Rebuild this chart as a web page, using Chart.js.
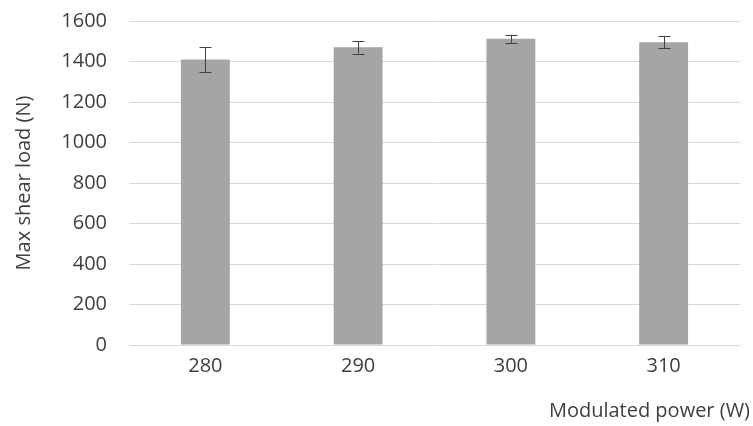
<!DOCTYPE html>
<html>
<head>
<meta charset="utf-8">
<script src="https://cdn.jsdelivr.net/npm/chart.js@4"></script>
<style>
  html, body { margin: 0; padding: 0; background: #fff; }
  #wrap { width: 753px; height: 426px; position: relative; }
</style>
</head>
<body>
<div id="wrap"><canvas id="c" width="753" height="426"></canvas></div>
<script>
// Modulated power settings (W)
const powers = ['280', '290', '300', '310'];
// Mean max shear load (N)
const shearLoad = [1410, 1470, 1512, 1495];
// Standard deviation of max shear load (N)
const shearErr = [62, 31, 20, 30];
const yTicks = [0, 200, 400, 600, 800, 1000, 1200, 1400, 1600];
const xTitle = 'Modulated power (W)';

const FONT = "'Open Sans', 'DejaVu Sans', sans-serif";
const TEXT = '#404040';

// Draws the ± error whiskers on top of each bar, plus the x-axis title
const extras = {
  id: 'extras',
  afterDatasetsDraw(chart) {
    const { ctx, scales: { x, y } } = chart;
    ctx.save();
    ctx.strokeStyle = '#404040';
    ctx.lineWidth = 1;
    shearLoad.forEach((v, i) => {
      const cx = Math.round(x.getPixelForValue(i)) + 0.5;
      const top = y.getPixelForValue(v + shearErr[i]);
      const bot = y.getPixelForValue(v - shearErr[i]);
      ctx.beginPath();
      ctx.moveTo(cx, top); ctx.lineTo(cx, bot);
      ctx.moveTo(cx - 6, Math.round(top) + 0.5); ctx.lineTo(cx + 6, Math.round(top) + 0.5);
      ctx.moveTo(cx - 6, Math.round(bot) + 0.5); ctx.lineTo(cx + 6, Math.round(bot) + 0.5);
      ctx.stroke();
    });
    ctx.fillStyle = TEXT;
    ctx.font = '20px ' + FONT;
    ctx.textAlign = 'right';
    ctx.textBaseline = 'middle';
    ctx.fillText(xTitle, chart.width - 3, 411);
    ctx.restore();
  }
};

new Chart(document.getElementById('c'), {
  type: 'bar',
  data: {
    labels: powers,
    datasets: [{
      data: shearLoad,
      backgroundColor: '#A5A5A5',
      borderWidth: 0,
      categoryPercentage: 1,
      barPercentage: 0.32
    }]
  },
  options: {
    responsive: false,
    animation: false,
    devicePixelRatio: 1,
    layout: { padding: { top: 21, right: 13, left: 0, bottom: 0 } },
    plugins: { legend: { display: false }, tooltip: { enabled: false } },
    scales: {
      x: {
        grid: { display: false },
        border: { display: false },
        ticks: { color: TEXT, font: { family: FONT, size: 20 }, padding: 1 },
        afterFit(s) { s.height = 81; s.paddingLeft = 0; s.paddingRight = 0; }
      },
      y: {
        min: 0, max: 1600,
        afterBuildTicks(s) { s.ticks = yTicks.map(v => ({ value: v })); },
        grid: { color: '#D9D9D9', lineWidth: 1, drawTicks: false },
        border: { display: false },
        ticks: {
          color: TEXT, font: { family: FONT, size: 20 }, padding: 22,
          callback: v => String(v)
        },
        title: {
          display: true, text: 'Max shear load (N)',
          color: TEXT, font: { family: FONT, size: 20 }, padding: { top: 12, bottom: 4 }
        },
        afterFit(s) { s.width = 129; s.paddingTop = 0; s.paddingBottom = 0; }
      }
    }
  },
  plugins: [extras]
});
</script>
</body>
</html>
